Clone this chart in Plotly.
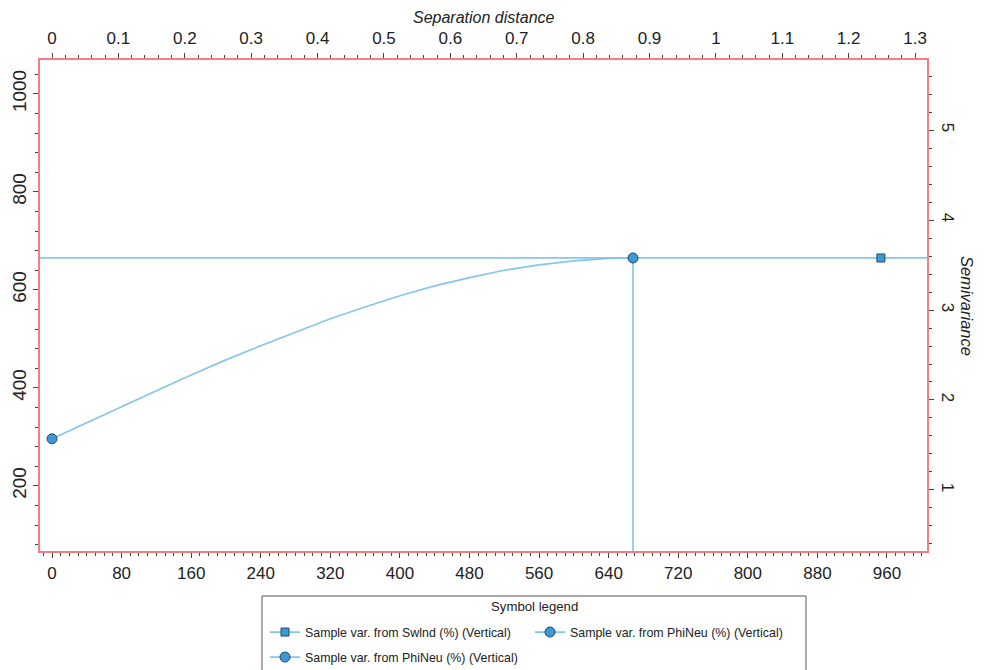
import plotly.graph_objects as go

# ---------------- data ----------------
sep_dist = [0, 40, 80, 120, 160, 200, 240, 280, 320, 360, 400, 440, 480, 520, 560, 600, 640, 668]
semivar = [296, 329, 362, 394, 426, 457, 486, 514, 541, 565, 588, 608, 625, 640, 651, 659, 664, 665]
sill = 665
model_range = 668
swlnd_x = [953]
swlnd_y = [665]
phineu_start_x = [0]
phineu_start_y = [296]
phineu_range_x = [668]
phineu_range_y = [665]

bottom_ticks = [0, 80, 160, 240, 320, 400, 480, 560, 640, 720, 800, 880, 960]
top_ticks = [0, 0.1, 0.2, 0.3, 0.4, 0.5, 0.6, 0.7, 0.8, 0.9, 1, 1.1, 1.2, 1.3]
left_ticks = [200, 400, 600, 800, 1000]
right_ticks = [1, 2, 3, 4, 5]

x_range = [-13.8, 1006]
x2_range = [-0.0181, 1.318]
y_range = [67, 1069]
y2_range = [0.322, 5.778]

legend_names = [
    "Sample var. from Swlnd (%) (Vertical)",
    "Sample var. from PhiNeu (%) (Vertical)",
    "Sample var. from PhiNeu (%) (Vertical)",
]

# ---------------- styles ----------------
LINE_C = "#86c6e8"
MARK_FILL = "#3b99d3"
MARK_EDGE = "#23486a"
FRAME = "#f07e84"
TICK_C = "#444444"
FONT = "Liberation Sans, Arial, sans-serif"

# page body has an 8px margin: the figure is placed at (8, 8)
OFF = 8
PL, PR, PT, PB = 40, 927, 60, 551          # plot area in page pixels
PW, PH = PR - PL, PB - PT


def px(xp):
    return (xp - PL) / PW


def py(yp):
    return (PB - yp) / PH


fig = go.Figure()

# model curve
fig.add_trace(go.Scatter(x=sep_dist, y=semivar, mode="lines",
                         line=dict(color=LINE_C, width=1.7),
                         showlegend=False, hoverinfo="skip"))
# vertical line at the range
fig.add_trace(go.Scatter(x=[model_range, model_range], y=[y_range[0], sill], mode="lines",
                         line=dict(color=LINE_C, width=1.7),
                         showlegend=False, hoverinfo="skip"))
# horizontal sill line
fig.add_hline(y=sill, line=dict(color=LINE_C, width=1.7), layer="below")

# markers / legend entries
fig.add_trace(go.Scatter(x=swlnd_x, y=swlnd_y, mode="lines+markers", name=legend_names[0],
                         line=dict(color=LINE_C, width=1.7),
                         marker=dict(symbol="square", size=8, color=MARK_FILL,
                                     line=dict(color=MARK_EDGE, width=1)),
                         legend="legend"))
fig.add_trace(go.Scatter(x=phineu_range_x, y=phineu_range_y, mode="lines+markers", name=legend_names[1],
                         line=dict(color=LINE_C, width=1.7),
                         marker=dict(symbol="circle", size=10, color=MARK_FILL,
                                     line=dict(color=MARK_EDGE, width=1)),
                         legend="legend"))
fig.add_trace(go.Scatter(x=phineu_start_x, y=phineu_start_y, mode="lines+markers", name=legend_names[2],
                         line=dict(color=LINE_C, width=1.7),
                         marker=dict(symbol="circle", size=10, color=MARK_FILL,
                                     line=dict(color=MARK_EDGE, width=1)),
                         legend="legend2"))
# link secondary axes
fig.add_trace(go.Scatter(x=[None], y=[None], xaxis="x2", yaxis="y2", mode="markers",
                         showlegend=False, hoverinfo="skip"))

axis_common = dict(showline=True, linecolor=FRAME, linewidth=1.5, ticks="outside",
                   tickcolor=TICK_C, ticklen=5, tickwidth=1, showgrid=False, zeroline=False,
                   automargin=False)


def tf(size):
    return dict(family=FONT, size=size, color="#222")


fig.update_layout(
    width=984 - OFF, height=670 - OFF, autosize=False,
    margin=dict(l=PL - OFF, r=984 - PR, t=PT - OFF, b=670 - PB, autoexpand=False),
    paper_bgcolor="white", plot_bgcolor="white",
    font=dict(family=FONT, size=14, color="#222"),
    xaxis=dict(range=x_range, tickmode="array", tickvals=bottom_ticks, ticklabelstandoff=1,
               tickfont=tf(17),
               minor=dict(dtick=10, tick0=0, ticks="outside", ticklen=3, tickcolor=TICK_C),
               **axis_common),
    xaxis2=dict(range=x2_range, overlaying="x", side="top", anchor="y", tickmode="array",
                tickvals=top_ticks, ticktext=[f"{t:g}" for t in top_ticks], ticklabelstandoff=2,
                tickfont=tf(17),
                minor=dict(dtick=0.02, tick0=0, ticks="outside", ticklen=3, tickcolor=TICK_C),
                **axis_common),
    yaxis=dict(range=y_range, tickmode="array", tickvals=left_ticks, tickangle=-90,
               tickfont=tf(19),
               minor=dict(dtick=40, tick0=0, ticks="outside", ticklen=3, tickcolor=TICK_C),
               **axis_common),
    yaxis2=dict(range=y2_range, overlaying="y", side="right", anchor="x", tickmode="array",
                tickvals=right_ticks, tickangle=90, tickfont=tf(17), ticklabelstandoff=1,
                minor=dict(dtick=0.2, tick0=0, ticks="outside", ticklen=3, tickcolor=TICK_C),
                **axis_common),
    legend=dict(orientation="h", x=px(265), y=py(617.5),
                xanchor="left", yanchor="top", entrywidth=220, entrywidthmode="pixels",
                itemwidth=30, bgcolor="rgba(0,0,0,0)", borderwidth=0,
                font=tf(12.4)),
    legend2=dict(orientation="h", x=px(265), y=py(642.5),
                 xanchor="left", yanchor="top", itemwidth=30,
                 bgcolor="rgba(0,0,0,0)", borderwidth=0,
                 font=tf(12.4)),
)

# legend box and title
fig.add_shape(type="rect", xref="paper", yref="paper",
              x0=px(262), x1=px(806), y0=py(700), y1=py(596),
              line=dict(color="#555555", width=1), fillcolor="rgba(0,0,0,0)")
fig.add_annotation(text="Symbol legend", xref="paper", yref="paper",
                   x=px(534), y=py(606), showarrow=False,
                   font=tf(13.2), xanchor="center", yanchor="middle")

# axis titles
fig.add_annotation(text="<i>Separation distance</i>", xref="paper", yref="paper",
                   x=px(484), y=py(18), showarrow=False,
                   font=tf(16), xanchor="center", yanchor="middle")
fig.add_annotation(text="<i>Semivariance</i>", xref="paper", yref="paper",
                   x=px(967), y=py(306), showarrow=False, textangle=90,
                   font=tf(16.5), xanchor="center", yanchor="middle")

fig.write_html("out.html")
